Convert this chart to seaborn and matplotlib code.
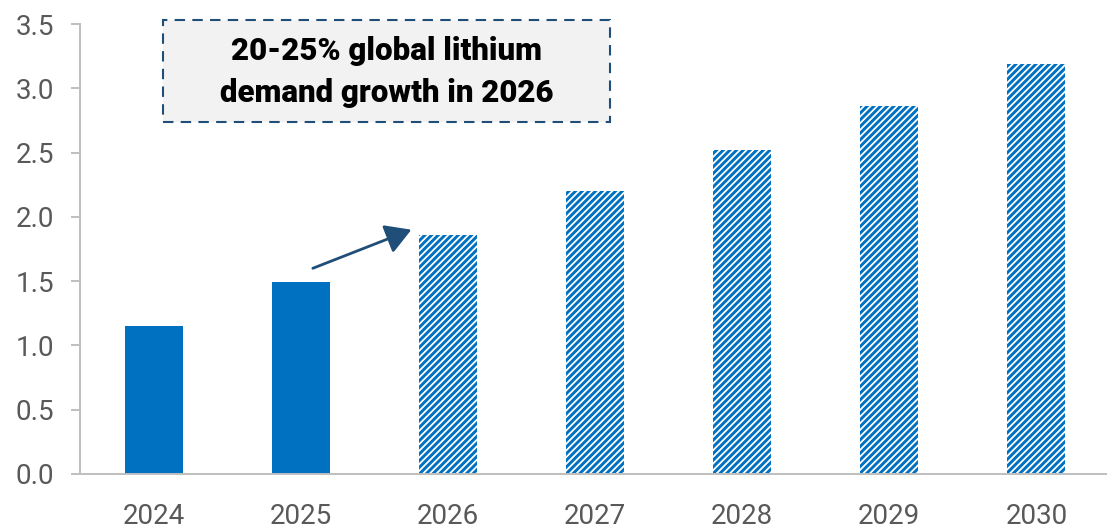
import matplotlib
matplotlib.use("Agg")
import matplotlib.pyplot as plt
import seaborn as sns
import pandas as pd
from matplotlib.patches import Rectangle

# Global lithium demand (actual vs. forecast)
years = ["2024", "2025", "2026", "2027", "2028", "2029", "2030"]
demand = [1.15, 1.49, 1.86, 2.20, 2.52, 2.86, 3.19]
is_forecast = [False, False, True, True, True, True, True]
y_ticks = [0.0, 0.5, 1.0, 1.5, 2.0, 2.5, 3.0, 3.5]
callout_text = "20-25% global lithium\ndemand growth in 2026"

BLUE = "#0070C0"
NAVY = "#1F4E79"
GRID_GREY = "#BFBFBF"
TEXT_GREY = "#595959"

sns.set_theme(style="white")
plt.rcParams["font.family"] = ["Roboto", "DejaVu Sans"]
plt.rcParams["hatch.color"] = BLUE
plt.rcParams["hatch.linewidth"] = 2.1

df = pd.DataFrame({"year": years, "demand": demand})

fig = plt.figure(figsize=(11.07, 5.29), dpi=100)
ax = fig.add_axes([0.0723, 0.104, 0.9277, 0.8506])

sns.barplot(data=df, x="year", y="demand", color=BLUE, saturation=1,
            width=0.395, ax=ax)

for patch, fc in zip(ax.patches, is_forecast):
    patch.set_linewidth(0)
    if fc:
        patch.set_facecolor("white")
        patch.set_edgecolor(BLUE)
        patch.set_hatch("/////")

ax.set_ylim(0, 3.5)
ax.set_xlim(-0.503, len(years) - 0.52)
ax.set_yticks(y_ticks)
ax.set_yticklabels([f"{v:.1f}" for v in y_ticks])
ax.set_xlabel("")
ax.set_ylabel("")

for side in ("top", "right"):
    ax.spines[side].set_visible(False)
for side in ("left", "bottom"):
    ax.spines[side].set_color(GRID_GREY)
    ax.spines[side].set_linewidth(1.4)

ax.tick_params(axis="y", which="major", left=True, length=6.5, width=1.4,
               color=GRID_GREY, labelsize=20, labelcolor=TEXT_GREY, pad=12)
ax.tick_params(axis="x", which="major", bottom=False, labelsize=20,
               labelcolor=TEXT_GREY, pad=15)

# Growth arrow between 2025 and 2026
ax.annotate("", xy=(1.75, 1.90), xytext=(1.08, 1.60),
            arrowprops=dict(arrowstyle="-|>,head_length=0.65,head_width=0.38",
                            color=NAVY, lw=2, mutation_scale=24,
                            shrinkA=0, shrinkB=0))

# Call-out box
box = Rectangle((0.147, 0.769), 0.404, 0.193, transform=fig.transFigure,
                facecolor="#F2F2F2", edgecolor=NAVY,
                linestyle=(0, (5, 3.5)), linewidth=1.5, zorder=5)
fig.patches.append(box)
fig.text(0.349, 0.864, callout_text, ha="center", va="center",
         fontsize=22.5, fontweight="heavy", color="black", linespacing=1.5,
         zorder=6)

fig.savefig("out.png", dpi=100, facecolor="white")
